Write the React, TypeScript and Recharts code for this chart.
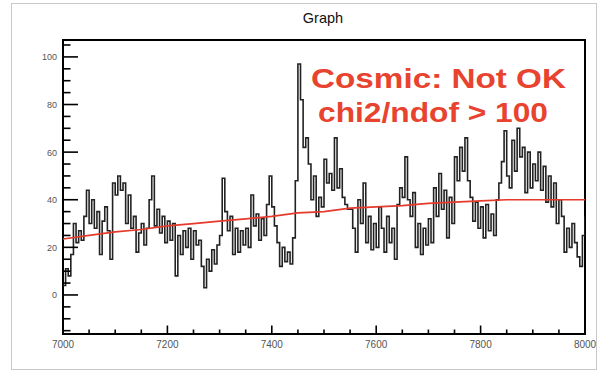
import { LineChart, Line, XAxis, YAxis, ReferenceArea } from "recharts"

// graph samples, one every 5 units starting at 7000
const seg7000 = [4, 11, 8, 17, 30, 22, 27, 23, 33, 44, 30, 40, 28, 35, 17, 31, 37, 27, 15, 47]
const seg7100 = [42, 50, 44, 47, 30, 42, 28, 33, 18, 26, 30, 21, 28, 40, 50, 29, 36, 26, 33, 22]
const seg7200 = [31, 23, 30, 8, 25, 17, 27, 20, 28, 15, 27, 21, 23, 12, 3, 15, 10, 19, 13, 21]
const seg7300 = [25, 49, 35, 27, 33, 17, 28, 18, 27, 21, 28, 20, 42, 29, 34, 23, 32, 25, 38, 50]
const seg7400 = [37, 29, 22, 12, 20, 14, 18, 13, 24, 48, 97, 82, 62, 66, 55, 40, 50, 33, 41, 37]
const seg7500 = [57, 47, 51, 44, 66, 45, 53, 41, 38, 36, 36, 28, 18, 40, 30, 47, 22, 33, 19, 30]
const seg7600 = [20, 37, 28, 18, 33, 22, 28, 15, 38, 45, 41, 58, 40, 33, 43, 20, 30, 17, 28, 21]
const seg7700 = [32, 22, 45, 33, 51, 36, 44, 24, 41, 30, 58, 48, 62, 52, 66, 48, 41, 31, 39, 28]
const seg7800 = [37, 24, 38, 27, 34, 25, 40, 47, 56, 69, 50, 45, 65, 52, 70, 58, 62, 43, 60, 45]
const seg7900 = [55, 48, 60, 44, 54, 39, 50, 37, 47, 30, 40, 33, 18, 28, 20, 30, 22, 16, 12, 25, 33]

// fit curve
const fitX = [7000, 7050, 7100, 7150, 7200, 7250, 7300, 7350, 7400, 7450, 7500, 7550, 7600, 7650, 7700, 7750, 7800, 7850, 7900, 8000]
const fitY = [23.5, 25, 26.5, 27.5, 29, 30, 31, 32, 33, 34.5, 35, 36.5, 37, 37.5, 38.5, 39, 39.5, 40, 40, 40]

const xTicks = [7000, 7050, 7100, 7150, 7200, 7250, 7300, 7350, 7400, 7450, 7500, 7550, 7600, 7650, 7700, 7750, 7800, 7850, 7900, 7950, 8000]
const yTicks = [-15, -10, -5, 0, 5, 10, 15, 20, 25, 30, 35, 40, 45, 50, 55, 60, 65, 70, 75, 80, 85, 90, 95, 100, 105]

const values = [...seg7000, ...seg7100, ...seg7200, ...seg7300, ...seg7400, ...seg7500, ...seg7600, ...seg7700, ...seg7800, ...seg7900]
const graphData = values.map((v, i) => ({ x: 7000 + 5 * i, y: v }))
const fitData = fitX.map((x, i) => ({ x, fit: fitY[i] }))

const W = 603
const H = 372
const LEFT = 63
const BOTTOM = 334
const FONT = "'Liberation Sans', Arial, Helvetica, sans-serif"

function YTick(props: any) {
  const { y, payload } = props
  const v = payload.value
  const major = v % 20 === 0
  return (
    <g>
      <line x1={LEFT} x2={LEFT + (major ? 15 : 7.5)} y1={y} y2={y} stroke="#000" strokeWidth={1.6} />
      {major && (
        <text x={LEFT - 6} y={y + 3.5} textAnchor="end" fontSize={9} fill="#555" fontFamily={FONT}>
          {v}
        </text>
      )}
    </g>
  )
}

function XTick(props: any) {
  const { x, payload } = props
  const v = payload.value
  const major = v % 200 === 0
  return (
    <g>
      <line x1={x} x2={x} y1={BOTTOM} y2={BOTTOM - (major ? 8.5 : 4.5)} stroke="#000" strokeWidth={1.6} />
      {major && (
        <text x={x} y={BOTTOM + 14} textAnchor="middle" fontSize={10} fill="#555" fontFamily={FONT}>
          {v}
        </text>
      )}
    </g>
  )
}

export default function App() {
  return (
    <div style={{ position: "absolute", left: 0, top: 0, width: W, height: H, background: "#fff" }}>
      <div
        style={{
          position: "absolute",
          left: 11,
          top: 3,
          width: 586,
          height: 367,
          border: "1px solid #c8c8c8",
          boxSizing: "border-box",
        }}
      />
      <div style={{ position: "absolute", left: 0, top: 0 }}>
        <LineChart width={W} height={H} margin={{ top: 40, right: 18, bottom: 18, left: 43 }}>
          <XAxis
            dataKey="x"
            type="number"
            domain={[7000, 8000]}
            ticks={xTicks}
            interval={0}
            height={20}
            axisLine={false}
            tickLine={false}
            tick={<XTick />}
            allowDataOverflow
          />
          <YAxis
            type="number"
            domain={[-16.4, 107.1]}
            ticks={yTicks}
            interval={0}
            width={20}
            axisLine={false}
            tickLine={false}
            tick={<YTick />}
            allowDataOverflow
          />
          <ReferenceArea x1={7000} x2={8000} y1={-16.4} y2={107.1} fill="none" stroke="#000" strokeWidth={2} fillOpacity={0} />
          <Line
            data={graphData}
            dataKey="y"
            type="stepAfter"
            stroke="#222"
            strokeWidth={1.6}
            dot={false}
            isAnimationActive={false}
          />
          <Line
            data={fitData}
            dataKey="fit"
            type="linear"
            stroke="#e53a2c"
            strokeWidth={1.7}
            dot={false}
            isAnimationActive={false}
          />
        </LineChart>
      </div>
      <svg width={W} height={H} style={{ position: "absolute", left: 0, top: 0, pointerEvents: "none" }}>
        <text x={323} y={23} textAnchor="middle" fontSize={14.5} fill="#111" fontFamily={FONT}>
          Graph
        </text>
        <text x={311} y={88} fontSize={28} fontWeight="bold" fill="#e8432f" fontFamily={FONT} textLength={255} lengthAdjust="spacingAndGlyphs">
          Cosmic: Not OK
        </text>
        <text x={318} y={122} fontSize={28} fontWeight="bold" fill="#e8432f" fontFamily={FONT} textLength={230} lengthAdjust="spacingAndGlyphs">
          chi2/ndof &gt; 100
        </text>
      </svg>
    </div>
  )
}
